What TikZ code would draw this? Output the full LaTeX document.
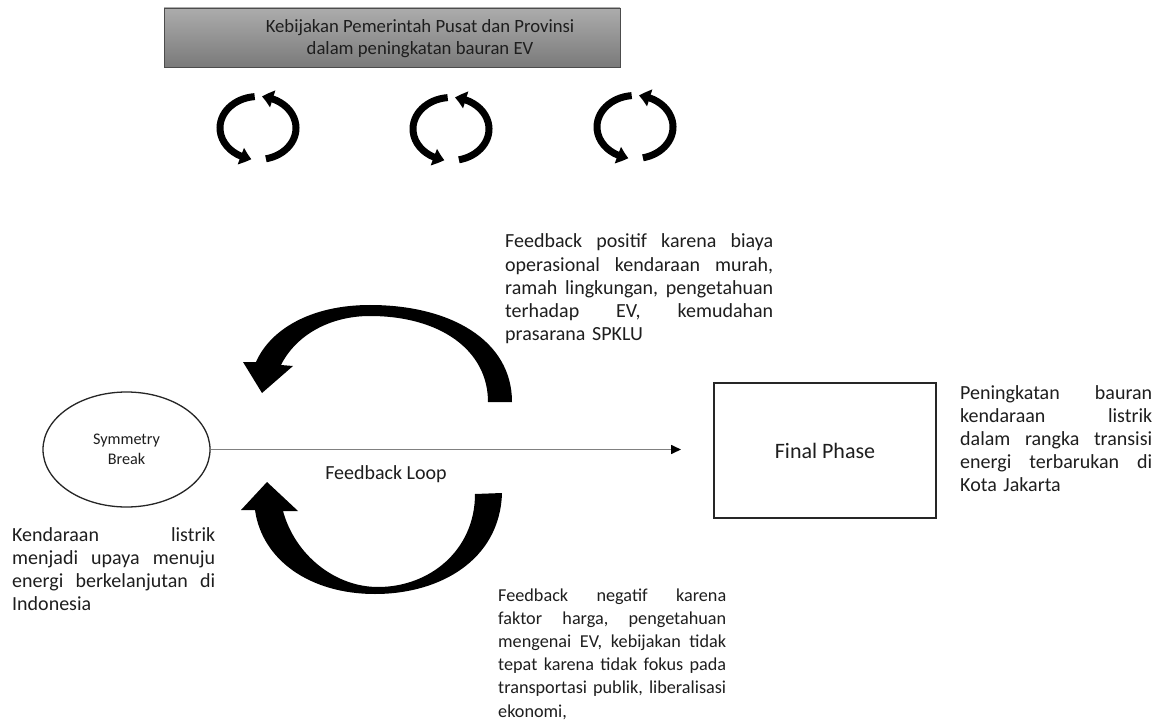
\documentclass[tikz,border=0pt]{standalone}
\usepackage{fontspec}
\setmainfont{Carlito}
\usetikzlibrary{arrows.meta,bending,shapes.geometric}
\newlength\jlw
\newcommand{\jl}[1]{\leavevmode\hbox to\jlw{\frenchspacing\spaceskip=0.23em plus 1fil\relax #1}}
\definecolor{txt}{RGB}{30,30,30}
\definecolor{boxtop}{RGB}{172,172,172}
\definecolor{boxbot}{RGB}{122,122,122}
\begin{document}
\begin{tikzpicture}[x=1pt,y=-1pt,
  para/.style={anchor=base west, inner sep=0pt, align=left, text=txt, text width=#1,
               execute at begin node={\setlength{\jlw}{#1}},
               font=\fontsize{20}{23.2}\selectfont},
  icon/.style={line width=7pt, -{Triangle[width=17pt,length=11pt,bend]}},
  bigarrow/.style={fill=black, draw=none},
  lbl/.style={text=txt, inner sep=0pt},
]
\useasboundingbox[fill=white] (0,0) rectangle (1162,727);

% policy box
\node[draw=black!70, line width=0.8pt, top color=boxtop, bottom color=boxbot,
      minimum width=456pt, minimum height=59pt, inner sep=0pt] (policy) at (392,37.5) {};
\node[lbl, align=center, font=\fontsize{18.7}{22}\selectfont] (policytext) at (420,39)
  {Kebijakan Pemerintah Pusat dan Provinsi\\dalam peningkatan bauran EV};

% cycle icons
\foreach \cx/\cy in {258/128, 451/129, 635/127}{
  \draw[icon] (\cx,\cy) ++(265:38 and 31.5) arc[start angle=265,end angle=100,x radius=38,y radius=31.5];
  \draw[icon] (\cx,\cy) ++(78:38 and 31.5) arc[start angle=78,end angle=-84,x radius=38,y radius=31.5];
}

% big curved arrows
\fill[bigarrow] (512,402) .. controls (512,340) and (450,305) .. (370,305)
  .. controls (310,305) and (270,330) .. (256,362) -- (243,362) -- (262,393) -- (293,366) -- (281,365)
  .. controls (296,335) and (330,316) .. (370,316)
  .. controls (440,316) and (488,350) .. (488,402) -- cycle;
\fill[bigarrow] (502,493) .. controls (500,560) and (440,594) .. (375,594)
  .. controls (310,594) and (262,560) .. (255,510) -- (241,510) -- (267,482) -- (298,511) -- (283,511)
  .. controls (295,555) and (335,587) .. (378,587)
  .. controls (430,587) and (475,550) .. (475,494) -- cycle;

% nodes
\node[ellipse, draw=black!85, line width=1.3pt, minimum width=167pt, minimum height=115pt,
      inner sep=0pt, align=center, text=txt, font=\fontsize{16.2}{19.5}\selectfont] (sym) at (126.5,449.5) {Symmetry\\Break};
\node[draw=black!85, line width=1.3pt, minimum width=222pt, minimum height=135pt,
      text=txt, font=\fontsize{22}{26}\selectfont] (final) at (825,450.5) {Final Phase};

\coordinate (arrowend) at (681,449.5);
\draw[draw=gray, line width=1.6pt, -{Triangle[length=10pt,width=9pt,color=black]}] (sym.east) -- (arrowend);

\node[lbl, font=\fontsize{20}{24}\selectfont] (fbl) at (386,474) {Feedback Loop};

% paragraphs
\node[para=268pt] (pos) at (505,248)
  {\jl{Feedback positif karena biaya}\\\jl{operasional kendaraan murah,}\\\jl{ramah lingkungan, pengetahuan}\\\jl{terhadap EV, kemudahan}\\prasarana SPKLU};
\node[para=228pt, font=\fontsize{18.2}{23.2}\selectfont] (neg) at (498,601)
  {\jl{Feedback negatif karena}\\\jl{faktor harga, pengetahuan}\\\jl{mengenai EV, kebijakan tidak}\\\jl{tepat karena tidak fokus pada}\\\jl{transportasi publik, liberalisasi}\\ekonomi,};
\node[para=192pt] (fin) at (960,399)
  {\jl{Peningkatan bauran}\\\jl{kendaraan listrik}\\\jl{dalam rangka transisi}\\\jl{energi terbarukan di}\\Kota Jakarta};
\node[para=203pt] (ken) at (12,541)
  {\jl{Kendaraan listrik}\\\jl{menjadi upaya menuju}\\\jl{energi berkelanjutan di}\\Indonesia};
\end{tikzpicture}
\end{document}
